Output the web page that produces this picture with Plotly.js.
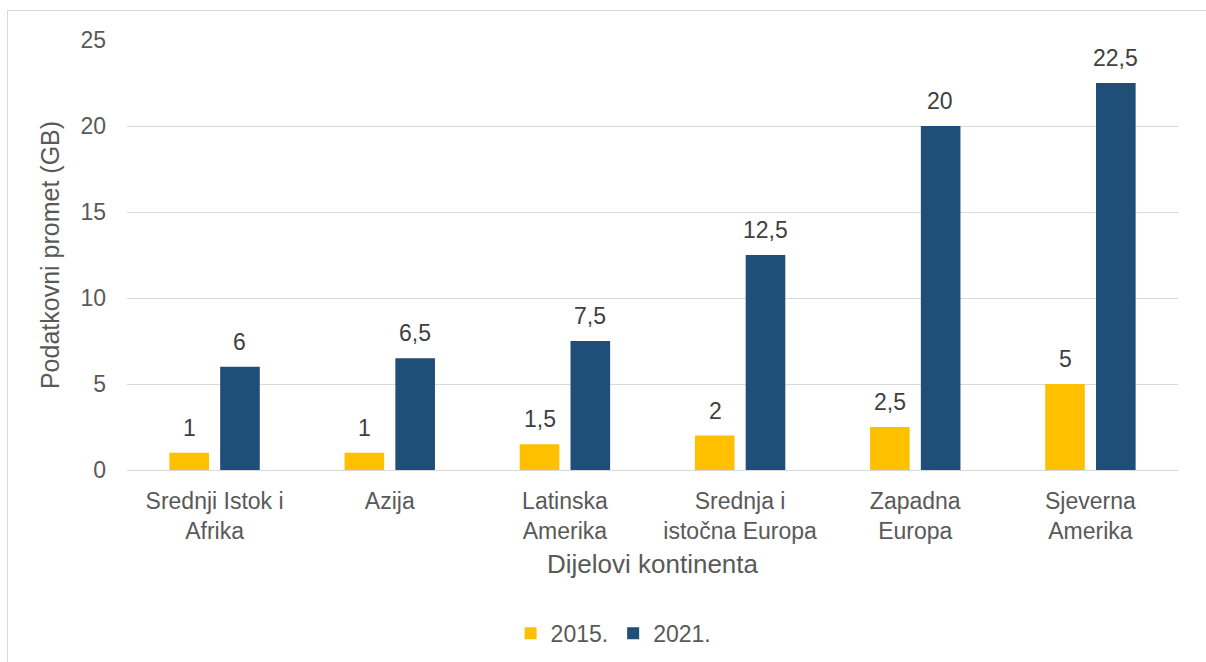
<!DOCTYPE html>
<html><head><meta charset="utf-8">
<script src="https://cdn.plot.ly/plotly-3.0.1.min.js"></script>
<style>
html,body{margin:0;padding:0;background:#fff;}
#wrap{position:relative;width:1206px;height:662px;overflow:hidden;}
#chart{position:absolute;left:0;top:0;width:1206px;height:662px;}
#frame{position:absolute;left:7px;top:10px;width:1210px;height:670px;border:1px solid #d9d9d9;pointer-events:none;}
</style></head>
<body><div id="wrap"><div id="chart"></div><div id="frame"></div></div>
<script>
const categories = ["Srednji Istok i<br>Afrika", "Azija", "Latinska<br>Amerika", "Srednja i<br>istočna Europa", "Zapadna<br>Europa", "Sjeverna<br>Amerika"];
const series2015 = [1, 1, 1.5, 2, 2.5, 5];
const series2021 = [6, 6.5, 7.5, 12.5, 20, 22.5];
const seriesNames = ["2015.", "2021."];
const yTicks = [0, 5, 10, 15, 20, 25];

const fmt = v => String(v).replace('.', ',');
const font = {family: "Liberation Sans, Arial, sans-serif"};

const traces = [
  {type: 'bar', name: seriesNames[0], x: categories, y: series2015, marker: {color: '#FFC000'}, hoverinfo: 'y'},
  {type: 'bar', name: seriesNames[1], x: categories, y: series2021, marker: {color: '#1F4E79'}, hoverinfo: 'y'}
];

const annotations = [];
[[series2015, -25], [series2021, 25]].forEach(([vals, dx]) => {
  vals.forEach((v, i) => {
    annotations.push({x: categories[i], y: v, xref: 'x', yref: 'y', text: fmt(v), showarrow: false,
      xshift: dx, yshift: 25, font: {family: font.family, size: 23, color: '#404040'}});
  });
});

const layout = {
  width: 1206, height: 662,
  margin: {l: 127, r: 28, t: 40, b: 192, autoexpand: false},
  paper_bgcolor: 'rgba(0,0,0,0)', plot_bgcolor: '#fff',
  separators: ',.',
  barmode: 'group', bargap: 0.42, bargroupgap: 0.22,
  font: {family: font.family, color: '#595959', size: 23},
  xaxis: {
    type: 'category', showgrid: false, showline: true, linecolor: '#d9d9d9', linewidth: 1, automargin: false,
    tickfont: {size: 23, color: '#595959'}, ticks: '', ticklabelstandoff: 10,
    title: {text: 'Dijelovi kontinenta', font: {size: 26, color: '#595959'}, standoff: 12}
  },
  yaxis: {
    range: [0, 25], tickvals: yTicks, ticktext: yTicks.map(String), showgrid: true, gridcolor: '#d9d9d9',
    zeroline: false, showline: false, ticks: '', ticklabelstandoff: 20, automargin: false,
    tickfont: {size: 23, color: '#595959'},
    title: {text: 'Podatkovni promet (GB)', font: {size: 25, color: '#595959'}, standoff: 13}
  },
  legend: {orientation: 'h', x: 0.463, xanchor: 'center', y: -0.38, yanchor: 'middle',
    font: {size: 23, color: '#595959'}, itemwidth: 30, traceorder: 'normal'},
  annotations: annotations
};

Plotly.newPlot('chart', traces, layout, {displayModeBar: false, staticPlot: true});
</script></body></html>
